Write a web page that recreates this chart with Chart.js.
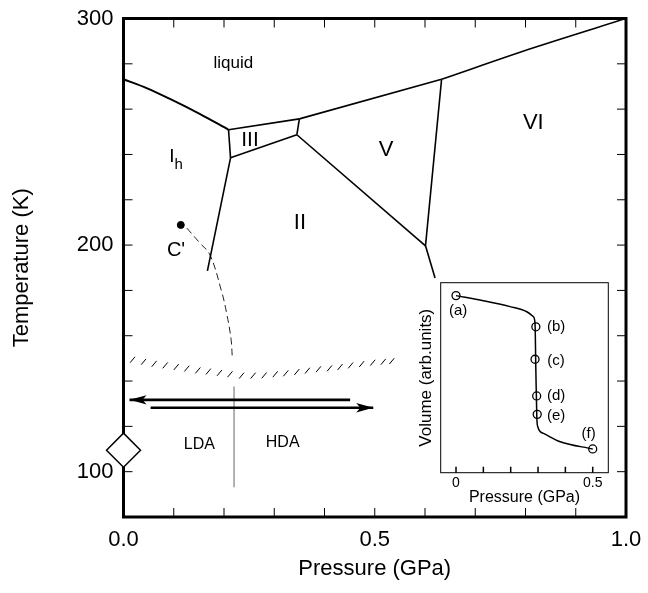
<!DOCTYPE html>
<html>
<head>
<meta charset="utf-8">
<script src="https://cdn.jsdelivr.net/npm/chart.js@4/dist/chart.umd.min.js"></script>
<style>
  html, body { margin: 0; padding: 0; background: #fff; }
  #wrap { position: relative; width: 648px; height: 593px; }
  #main { position: absolute; left: 0; top: 0; }
  #inset { position: absolute; left: 405px; top: 274px; }
</style>
</head>
<body>
<div id="wrap">
  <canvas id="main" width="648" height="593"></canvas>
  <canvas id="inset" width="210" height="236"></canvas>
</div>
<script>
const FONT = '"Liberation Sans", Arial, Helvetica, sans-serif';

// phase boundaries: [pressure GPa, temperature K]
const meltIh = [[0, 273.2], [0.046, 269.3], [0.0925, 264.5], [0.1525, 257.8], [0.209, 250.9]];
const meltIII = [[0.209, 250.9], [0.35, 255.7]];
const meltV = [[0.35, 255.7], [0.633, 273.2]];
const meltVI = [[0.633, 273.2], [0.816, 287.1], [1.0, 300]];
const lineIhIII = [[0.209, 250.9], [0.213, 238.5]];
const lineIIIII = [[0.213, 238.5], [0.345, 248.7]];
const lineIIIV = [[0.35, 255.7], [0.345, 248.7]];
const lineIhII = [[0.213, 238.5], [0.167, 188.6]];
const lineIIV = [[0.345, 248.7], [0.601, 199.7]];
const lineVVI = [[0.633, 273.2], [0.601, 199.7]];
const lineIIVI = [[0.601, 199.7], [0.62, 185.5]];

// C' point and dashed curve
const cPoint = [[0.114, 208.9]];
const cCurve = [[0.126, 207.5], [0.152, 200.9], [0.172, 195.7], [0.195, 179.7], [0.205, 170.2], [0.214, 158.5], [0.2165, 150.4]];

// hatched line
const hatchP = [0.018, 0.040, 0.061, 0.083, 0.105, 0.126, 0.148, 0.169, 0.191, 0.212, 0.235, 0.258, 0.280,
  0.302, 0.323, 0.345, 0.366, 0.388, 0.410, 0.431, 0.452, 0.474, 0.496, 0.517, 0.534];
const hatchT = [149.4, 148.5, 147.6, 146.9, 146.2, 145.5, 144.7, 144.2, 143.6, 143.0, 142.4, 142.4, 142.5,
  143.0, 143.4, 144.0, 144.6, 145.2, 145.6, 146.2, 146.9, 147.5, 148.1, 148.5, 148.8];

// arrows (start -> tip)
const arrowLeft = [[0.451, 131.7], [0.012, 131.7]];
const arrowRight = [[0.054, 128.2], [0.497, 128.2]];

// LDA/HDA divider and diamond marker
const divider = [[0.22, 137.6], [0.22, 93.1]];
const diamond = [[0.0, 109.5]];

const xTicks = [0, 0.5, 1.0];
const yTicks = [100, 200, 300];

const mainLabels = [
  {text: 'liquid', x: 0.2185, y: 280.3, size: 17},
  {text: 'III', x: 0.2517, y: 246.5, size: 21},
  {text: 'I', x: 0.0965, y: 238.9, size: 19},
  {text: 'h', x: 0.1098, y: 235.2, size: 15},
  {text: 'II', x: 0.351, y: 209.6, size: 22},
  {text: 'V', x: 0.5224, y: 242.2, size: 22},
  {text: 'VI', x: 0.8155, y: 253.9, size: 22},
  {text: "C'", x: 0.1045, y: 197.7, size: 20},
  {text: 'LDA', x: 0.151, y: 112.1, size: 16},
  {text: 'HDA', x: 0.3168, y: 112.9, size: 16}
];

// inset: volume vs pressure
const insetCurve = [[0, 0.932], [0.1, 0.905], [0.198, 0.874], [0.259, 0.847], [0.283, 0.821], [0.289, 0.786],
  [0.292, 0.541], [0.2955, 0.295], [0.299, 0.242], [0.32, 0.207], [0.381, 0.163], [0.5, 0.125]];
const insetPoints = [[0, 0.932], [0.292, 0.768], [0.289, 0.597], [0.295, 0.404], [0.297, 0.307], [0.5, 0.125]];
const insetNames = ['(a)', '(b)', '(c)', '(d)', '(e)', '(f)'];
const insetNamePos = [[0.008, 0.853], [0.366, 0.765], [0.366, 0.589], [0.366, 0.404], [0.366, 0.30], [0.485, 0.207]];

const pts = a => a.map(([x, y]) => ({x, y}));

// keep the chart area exactly where the layout padding puts it
const fixBox = (prop, size) => s => {
  s[prop] = size;
  s.paddingLeft = s.paddingRight = s.paddingTop = s.paddingBottom = 0;
};

const frameTicks = {
  id: 'frameTicks',
  beforeDatasetsDraw(chart, args, o) {
    const {ctx, chartArea: a, scales: {x, y}} = chart;
    ctx.save();
    ctx.strokeStyle = '#000';
    ctx.lineWidth = o.tickWidth;
    ctx.beginPath();
    for (const t of x.ticks) {
      const px = x.getPixelForValue(t.value);
      ctx.moveTo(px, a.bottom); ctx.lineTo(px, a.bottom - o.len);
      if (o.all) { ctx.moveTo(px, a.top); ctx.lineTo(px, a.top + o.len); }
    }
    if (o.all) {
      for (const t of y.ticks) {
        const py = y.getPixelForValue(t.value);
        ctx.moveTo(a.left, py); ctx.lineTo(a.left + o.len, py);
        ctx.moveTo(a.right, py); ctx.lineTo(a.right - o.len, py);
      }
    }
    ctx.stroke();
    ctx.lineWidth = o.frameWidth;
    ctx.strokeRect(a.left, a.top, a.width, a.height);
    ctx.restore();
  }
};

const textLabels = {
  id: 'textLabels',
  afterDatasetsDraw(chart, args, o) {
    const {ctx, scales: {x, y}} = chart;
    ctx.save();
    ctx.fillStyle = '#000';
    ctx.textAlign = 'center';
    ctx.textBaseline = 'middle';
    for (const l of o.items) {
      ctx.font = l.size + 'px ' + FONT;
      ctx.fillText(l.text, x.getPixelForValue(l.x), y.getPixelForValue(l.y));
    }
    ctx.restore();
  }
};

const arrowHeads = {
  id: 'arrowHeads',
  afterDatasetsDraw(chart) {
    const {ctx, scales: {x, y}} = chart;
    ctx.save();
    ctx.fillStyle = '#000';
    for (const ar of [arrowLeft, arrowRight]) {
      const [p0, p1] = ar;
      const tx = x.getPixelForValue(p1[0]), ty = y.getPixelForValue(p1[1]);
      const dir = p1[0] < p0[0] ? 1 : -1;
      ctx.beginPath();
      ctx.moveTo(tx, ty);
      ctx.lineTo(tx + dir * 17, ty - 4.7);
      ctx.lineTo(tx + dir * 13, ty);
      ctx.lineTo(tx + dir * 17, ty + 4.7);
      ctx.closePath();
      ctx.fill();
    }
    ctx.restore();
  }
};

const insetBg = {
  id: 'insetBg',
  beforeDraw(chart) {
    const {ctx, chartArea: a} = chart;
    ctx.save();
    ctx.fillStyle = '#fff';
    ctx.fillRect(a.left, a.top, a.width, a.height);
    ctx.restore();
  }
};

const solid = (data, extra) => Object.assign({
  data: pts(data), showLine: true, pointRadius: 0, borderColor: '#000',
  borderWidth: 1.6, backgroundColor: '#000'
}, extra || {});

new Chart(document.getElementById('main'), {
  type: 'scatter',
  data: {
    datasets: [
      solid(meltIh, {borderWidth: 2, cubicInterpolationMode: 'monotone'}),
      solid(meltIII),
      solid(meltV),
      solid(meltVI, {cubicInterpolationMode: 'monotone'}),
      solid(lineIhIII),
      solid(lineIIIII),
      solid(lineIIIV),
      solid(lineIhII),
      solid(lineIIV),
      solid(lineVVI),
      solid(lineIIVI),
      solid(cCurve, {borderWidth: 1, borderColor: '#222', borderDash: [7, 4], tension: 0.4}),
      {data: pts(cPoint), pointRadius: 3.5, backgroundColor: '#000', borderColor: '#000'},
      {data: hatchP.map((p, i) => ({x: p, y: hatchT[i]})), pointStyle: 'line', rotation: -50,
        pointRadius: 3.8, borderWidth: 1, borderColor: '#000'},
      solid(arrowLeft, {borderWidth: 2.6}),
      solid(arrowRight, {borderWidth: 2.6}),
      solid(divider, {borderColor: '#999', borderWidth: 1.5}),
      {data: pts(diamond), pointStyle: 'rectRot', pointRadius: 17, backgroundColor: '#fff',
        borderColor: '#000', borderWidth: 1.5, clip: false}
    ]
  },
  options: {
    responsive: false,
    animation: false,
    layout: {padding: {left: 0, top: 14, right: 22, bottom: 0}},
    plugins: {
      legend: {display: false},
      tooltip: {enabled: false},
      frameTicks: {len: 9, tickWidth: 1, frameWidth: 3, all: true},
      textLabels: {items: mainLabels}
    },
    scales: {
      x: {
        type: 'linear', min: 0, max: 1,
        grid: {display: false, drawTicks: false},
        border: {display: false},
        ticks: {
          stepSize: 0.1, autoSkip: false, maxRotation: 0, padding: 10, color: '#000',
          font: {family: FONT, size: 22},
          callback: v => xTicks.some(t => Math.abs(t - v) < 1e-6) ? v.toFixed(1) : ''
        },
        title: {display: true, text: 'Pressure (GPa)', color: '#000',
          font: {family: FONT, size: 22}, padding: {top: 0, bottom: 11}},
        afterFit: fixBox('height', 76)
      },
      y: {
        type: 'linear', min: 80, max: 300,
        grid: {display: false, drawTicks: false},
        border: {display: false},
        ticks: {
          stepSize: 20, autoSkip: false, padding: 10, color: '#000',
          font: {family: FONT, size: 22},
          callback: v => yTicks.includes(v) ? String(v) : ''
        },
        title: {display: true, text: 'Temperature (K)', color: '#000',
          font: {family: FONT, size: 22}, padding: {top: 9, bottom: 0}},
        afterFit: fixBox('width', 123.5)
      }
    }
  },
  plugins: [frameTicks, textLabels, arrowHeads]
});

new Chart(document.getElementById('inset'), {
  type: 'scatter',
  data: {
    datasets: [
      solid(insetCurve, {borderWidth: 1.5, cubicInterpolationMode: 'monotone'}),
      {data: pts(insetPoints), pointRadius: 4, backgroundColor: '#fff', borderColor: '#000', borderWidth: 1.3}
    ]
  },
  options: {
    responsive: false,
    animation: false,
    layout: {padding: {left: 0, top: 8.7, right: 6.7, bottom: 0}},
    plugins: {
      legend: {display: false},
      tooltip: {enabled: false},
      frameTicks: {len: 6, tickWidth: 1.5, frameWidth: 1, all: false},
      textLabels: {items: insetNames.map((t, i) => ({text: t, x: insetNamePos[i][0], y: insetNamePos[i][1], size: 15}))}
    },
    scales: {
      x: {
        type: 'linear', min: -0.056, max: 0.557,
        grid: {display: false, drawTicks: false},
        border: {display: false},
        ticks: {
          stepSize: 0.1, includeBounds: false, autoSkip: false, maxRotation: 0, padding: 2, color: '#000',
          font: {family: FONT, size: 14},
          callback: v => Math.abs(v) < 1e-6 ? '0' : (Math.abs(v - 0.5) < 1e-6 ? '0.5' : '')
        },
        title: {display: true, text: 'Pressure (GPa)', color: '#000',
          font: {family: FONT, size: 16}, padding: {top: 0, bottom: 2.7}},
        afterFit: fixBox('height', 37.3)
      },
      y: {
        type: 'linear', min: 0, max: 1,
        grid: {display: false, drawTicks: false},
        border: {display: false},
        ticks: {display: false},
        title: {display: true, text: 'Volume (arb.units)', color: '#000',
          font: {family: FONT, size: 17}, padding: {top: 11.5, bottom: 0}},
        afterFit: fixBox('width', 35.7)
      }
    }
  },
  plugins: [insetBg, frameTicks, textLabels]
});
</script>
</body>
</html>
